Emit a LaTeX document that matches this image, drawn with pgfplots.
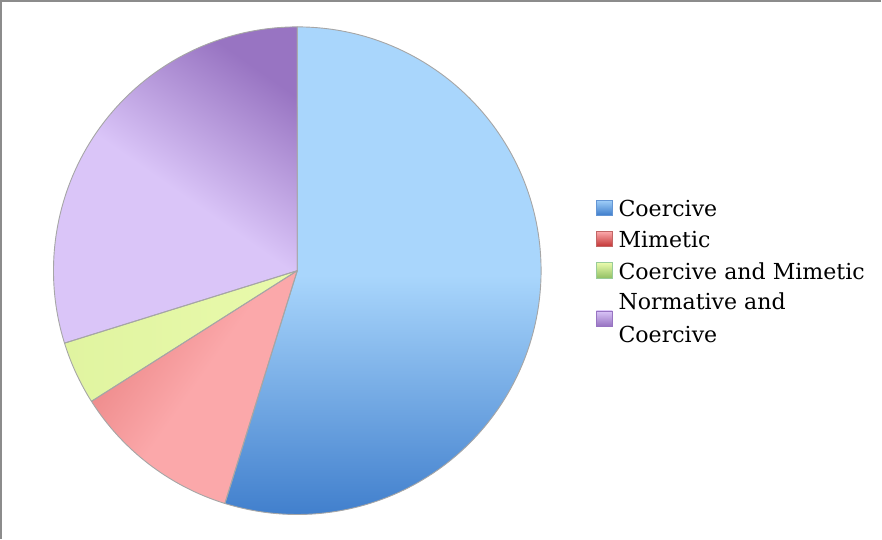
\documentclass[border=0pt]{standalone}
\usepackage{pgfplots}
\pgfplotsset{compat=1.18}
\usepackage{pgfplotstable}
\usepackage{fontspec}
\setmainfont{DejaVu Serif}

\definecolor{blueL}{HTML}{A9D6FC}
\definecolor{blueD}{HTML}{3D7CCB}
\definecolor{purL}{HTML}{DAC5F8}
\definecolor{purD}{HTML}{9874C2}
\definecolor{redL}{HTML}{FBA8AA}
\definecolor{redD}{HTML}{EA8282}
\definecolor{grnL}{HTML}{E9FAAC}
\definecolor{grnD}{HTML}{E0F4A0}
\definecolor{edge}{HTML}{A6A6A6}
\definecolor{frame}{HTML}{8C8C8C}

\pgfplotstableread{
label value
Coercive 54.8
Mimetic 11.2
CoerciveMimetic 4.2
NormativeCoercive 29.8
}\piedata
\pgfplotstablegetelem{0}{value}\of\piedata \let\vA\pgfplotsretval
\pgfplotstablegetelem{1}{value}\of\piedata \let\vB\pgfplotsretval
\pgfplotstablegetelem{2}{value}\of\piedata \let\vC\pgfplotsretval
\pgfplotstablegetelem{3}{value}\of\piedata \let\vD\pgfplotsretval
\pgfmathsetmacro{\total}{\vA+\vB+\vC+\vD}
\pgfmathsetmacro{\aA}{90}
\pgfmathsetmacro{\aB}{\aA-360*(\vA/\total)}
\pgfmathsetmacro{\aC}{\aB-360*(\vB/\total)}
\pgfmathsetmacro{\aD}{\aC-360*(\vC/\total)}
\pgfmathsetmacro{\aE}{\aD-360*(\vD/\total)}
\def\R{243pt}

\begin{document}%
\begin{tikzpicture}
\begin{axis}[hide axis, scale only axis, width=882pt, height=540pt,
  xmin=0, xmax=882, ymin=0, ymax=540, y dir=reverse, clip=false]
\addplot[draw=none, forget plot] coordinates {(300,273)};
% slices
\shade[top color=blueL, bottom color=blueD, middle color=blueL]
  (axis cs:300,273) -- ++(\aA:\R) arc[start angle=\aA, end angle=\aB, radius=\R] -- cycle;
\shade[top color=redD, bottom color=redL, middle color=redL, shading angle=55]
  (axis cs:300,273) -- ++(\aB:\R) arc[start angle=\aB, end angle=\aC, radius=\R] -- cycle;
\shade[left color=grnD, right color=grnL]
  (axis cs:300,273) -- ++(\aC:\R) arc[start angle=\aC, end angle=\aD, radius=\R] -- cycle;
\shade[top color=purD, bottom color=purL, middle color=purL, shading angle=-35]
  (axis cs:300,273) -- ++(\aD:\R) arc[start angle=\aD, end angle=\aE, radius=\R] -- cycle;
% outlines
\draw[edge, line width=0.9pt, line join=round]
  (axis cs:300,273) -- ++(\aA:\R) arc[start angle=\aA, end angle=\aB, radius=\R] -- cycle;
\draw[edge, line width=0.9pt, line join=round]
  (axis cs:300,273) -- ++(\aB:\R) arc[start angle=\aB, end angle=\aC, radius=\R] -- cycle;
\draw[edge, line width=0.9pt, line join=round]
  (axis cs:300,273) -- ++(\aC:\R) arc[start angle=\aC, end angle=\aD, radius=\R] -- cycle;
\draw[edge, line width=0.9pt, line join=round]
  (axis cs:300,273) -- ++(\aD:\R) arc[start angle=\aD, end angle=\aE, radius=\R] -- cycle;
% frame
\draw[frame, line width=1.6pt] (axis cs:4.5,540) -- (axis cs:4.5,4) -- (axis cs:882,4);
% legend
\begin{scope}[every node/.style={font=\fontsize{22}{26}\selectfont, anchor=base west, inner sep=0pt}]
\shade[top color=blueL!90!blueD, bottom color=blueD, draw=blueD!80] (axis cs:598,203) rectangle (axis cs:614,218);
\node at (axis cs:620,219) {Coercive};
\shade[top color=redL, bottom color=red!70!black!80, draw=red!60!black!60] (axis cs:598,234) rectangle (axis cs:614,249);
\node at (axis cs:620,250) {Mimetic};
\shade[top color=grnL, bottom color=green!50!yellow!60!black!60, draw=green!50!black!40] (axis cs:598,265) rectangle (axis cs:614,280);
\node at (axis cs:620,281.5) {Coercive and Mimetic};
\shade[top color=purL, bottom color=purD, draw=purD] (axis cs:598,313) rectangle (axis cs:614,328);
\node at (axis cs:620,312) {Normative and};
\node at (axis cs:620,345) {Coercive};
\end{scope}
\end{axis}
\end{tikzpicture}%
\end{document}
